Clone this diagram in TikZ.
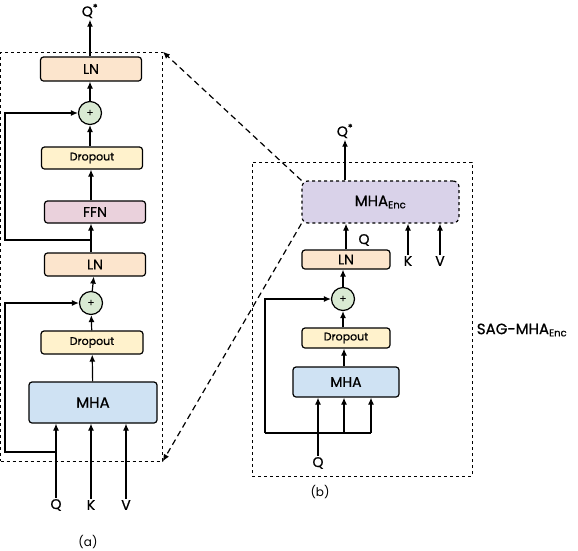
\documentclass[tikz,border=0pt]{standalone}
\usepackage{fontspec}
\setmainfont{Poppins}[FakeBold=0.8]
\newfontfamily\capfont{Poppins}
\usetikzlibrary{arrows, arrows.meta}

\definecolor{lnfill}{HTML}{FCE5CD}
\definecolor{dropfill}{HTML}{FFF2CC}
\definecolor{ffnfill}{HTML}{EAD1DC}
\definecolor{mhafill}{HTML}{CFE2F3}
\definecolor{addfill}{HTML}{D9EAD3}
\definecolor{encfill}{HTML}{D9D2E9}

\begin{document}
\begin{tikzpicture}[
            x = 1pt, y = -1pt,
            line width = 1.2pt,
            >= {Latex[length = 7pt, width = 6pt]},
            block/.style = {
                draw, rounded corners = 3pt,
                align = center,
                inner sep = 0pt,
                font = \fontsize{14}{14}\selectfont,
            },
            dropbox/.style = {
                block, fill = dropfill,
                font = \fontsize{11}{11}\selectfont,
            },
            adder/.style = {
                draw, circle, fill = addfill,
                minimum size = 23pt, inner sep = 0pt,
                font = \fontsize{10}{10}\selectfont,
            },
            frame/.style = {
                draw, dashed, line width = 0.6pt,
                inner sep = 0pt,
            },
            label/.style = {
                inner sep = 1pt,
                font = \fontsize{14}{14}\selectfont,
            },
            caption/.style = {
                font = \capfont\fontsize{12}{12}\selectfont,
            },
        ]

        \useasboundingbox (0,0) rectangle (578,550);

        % Encoder (a)
        \node[frame, minimum width = 162pt, minimum height = 409pt] (frame_a) at (81.5,256.5) {};
        \node[block, fill = lnfill, minimum width = 101pt, minimum height = 24pt] (ln_top) at (91,69) {LN};
        \node[adder] (add_top) at (90,113) {+};
        \node[dropbox, minimum width = 101pt, minimum height = 22pt] (drop_top) at (92,158) {Dropout};
        \node[block, fill = ffnfill, minimum width = 101pt, minimum height = 22pt] (ffn) at (95,212) {FFN};
        \node[block, fill = lnfill, minimum width = 101pt, minimum height = 23pt] (ln_mid) at (95,264.5) {LN};
        \node[adder] (add_mid) at (91,303) {+};
        \node[dropbox, minimum width = 102pt, minimum height = 23pt] (drop_mid) at (92,342.5) {Dropout};
        \node[block, fill = mhafill, minimum width = 128pt, minimum height = 41pt,
            font = \fontsize{15}{15}\selectfont] (mha) at (93,402.5) {MHA};

        \node[label] (out_a) at (90,11) {Q\textsuperscript{*}};
        \node[label] (q_a) at (56,505) {Q};
        \node[label] (k_a) at (91,505) {K};
        \node[label] (v_a) at (126,505) {V};
        \node[caption] (cap_a) at (88,542) {(a)};

        \coordinate (skip_top) at (91,240);
        \coordinate (skip_mid) at (56,452);

        \path[->]
            (q_a) edge (q_a |- mha.south)
            (k_a) edge (k_a |- mha.south)
            (v_a) edge (v_a |- mha.south)
            (mha) edge (drop_mid)
            (drop_mid) edge (add_mid)
            (add_mid) edge (ln_mid)
            (ln_mid.north -| skip_top) edge (skip_top |- ffn.south)
            (ffn.north -| skip_top) edge (skip_top |- drop_top.south)
            (drop_top.north -| add_top) edge (add_top)
            (add_top) edge (ln_top.south -| add_top)
            (ln_top.north -| out_a) edge (out_a);

        \draw[->] (skip_top) -- (5,240) |- (add_top.west);
        \draw[->] (skip_mid) -- (5,452) |- (add_mid.west);

        % Decoder (b)
        \node[frame, minimum width = 220pt, minimum height = 314pt] (frame_b) at (362,319) {};
        \node[block, fill = encfill, dashed, rounded corners = 6pt,
            minimum width = 157pt, minimum height = 42pt,
            font = \fontsize{15}{15}\selectfont] (mha_enc) at (380.5,202)
            {MHA\textsubscript{\fontsize{10}{10}\selectfont Enc}};
        \node[block, fill = lnfill, minimum width = 88pt, minimum height = 19pt] (ln_b) at (346,259.5) {LN};
        \node[adder] (add_b) at (343,299) {+};
        \node[dropbox, minimum width = 88pt, minimum height = 20pt] (drop_b) at (346,338) {Dropout};
        \node[block, fill = mhafill, minimum width = 106pt, minimum height = 30pt] (mha_b) at (346,382) {MHA};

        \node[label] (out_b) at (345,131) {Q\textsuperscript{*}};
        \node[label] (q_enc) at (364,240) {Q};
        \node[label] (k_b) at (408,261) {K};
        \node[label] (v_b) at (440,261) {V};
        \node[label] (q_b) at (318,463) {Q};
        \node[caption] (cap_b) at (320,492) {(b)};
        \node[label, font = \fontsize{15}{15}\selectfont] (sag) at (522,330)
            {SAG-MHA\textsubscript{\fontsize{10}{10}\selectfont Enc}};

        \coordinate (join_l) at (265,433);
        \coordinate (join_q) at (318,433);
        \coordinate (join_k) at (344,433);
        \coordinate (join_v) at (371,433);

        \path[->]
            (q_b) edge (q_b |- mha_b.south)
            (join_k) edge (join_k |- mha_b.south)
            (join_v) edge (join_v |- mha_b.south)
            (mha_b.north -| join_k) edge (drop_b.south -| join_k)
            (drop_b.north -| add_b) edge (add_b)
            (add_b) edge (ln_b.south -| add_b)
            (ln_b) edge (ln_b.north |- mha_enc.south)
            (k_b) edge (k_b |- mha_enc.south)
            (v_b) edge (v_b |- mha_enc.south)
            (mha_enc.north -| out_b) edge (out_b);

        \draw (join_l) -- (join_v);
        \draw[->] (join_l) |- (add_b.west);

        % Zoom
        \path[->, dashed, dash pattern = on 6pt off 4pt]
            (mha_enc.north west) edge (frame_a.north east)
            (mha_enc.south west) edge (frame_a.south east);
    \end{tikzpicture}
\end{document}
